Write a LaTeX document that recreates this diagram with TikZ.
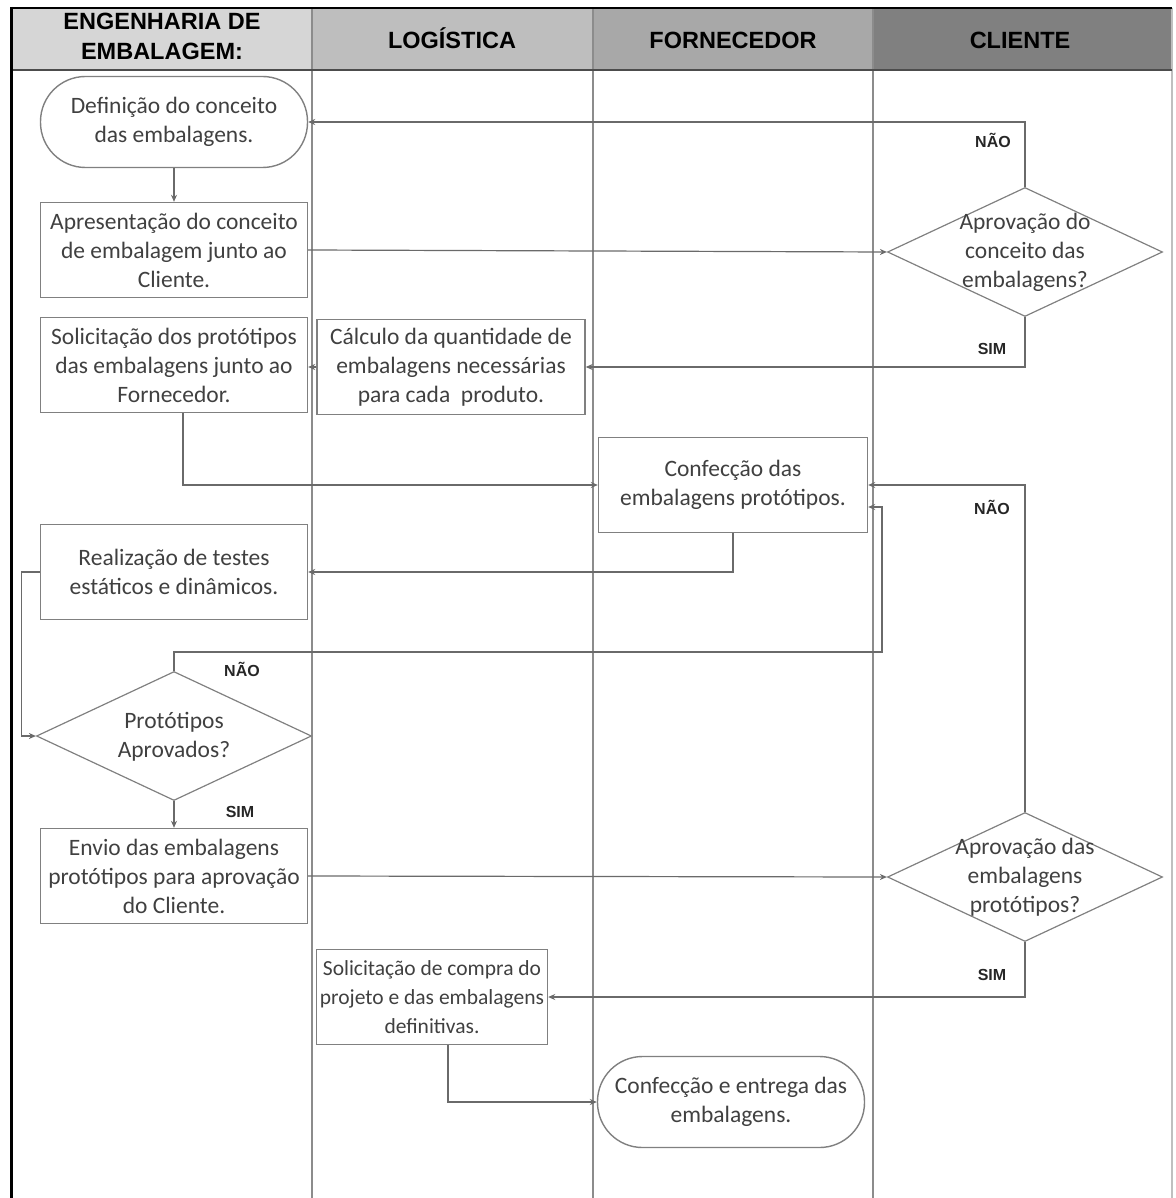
\documentclass[tikz,border=0pt]{standalone}
\usepackage{fontspec}
\setmainfont{Carlito}
\newfontfamily\headfont[BoldFont={Liberation Sans Bold}]{Liberation Sans}
\usepackage{xcolor}
\usepackage{tikz}
\usetikzlibrary{shapes.geometric}
\usetikzlibrary{arrows.meta,positioning,calc}

\definecolor{txtgray}{HTML}{404040}
\definecolor{boxgray}{HTML}{808080}
\definecolor{linegray}{HTML}{6A6A6A}
\definecolor{lanegray}{HTML}{8C8C8C}
\definecolor{hdrA}{HTML}{D6D6D6}
\definecolor{hdrB}{HTML}{BEBEBE}
\definecolor{hdrC}{HTML}{A8A8A8}
\definecolor{hdrD}{HTML}{808080}

% text inside a diamond that does not grow the shape
\newcommand{\dtext}[1]{\smash{\makebox[0pt]{\raisebox{-0.3em}{\begin{tabular}{@{}c@{}}#1\end{tabular}}}}}

\begin{document}
\begin{tikzpicture}[
    x=1pt, y=-1pt,
    >={Stealth[length=7pt,width=6pt]},
    every node/.style={font=\fontsize{23.5}{29}\selectfont, text=txtgray},
    header/.style={
        font=\headfont\bfseries\fontsize{23.5}{30}\selectfont,
        text=black,
        align=center,
        anchor=base
    },
    process/.style={
        draw=boxgray,
        line width=1.4pt,
        rectangle,
        align=center,
        inner sep=1pt,
        minimum width=267pt,
        minimum height=95pt
    },
    terminal/.style={
        process,
        rounded corners=45pt,
        minimum height=91pt
    },
    decision/.style={
        draw=boxgray,
        line width=1.2pt,
        diamond,
        inner sep=0pt,
        minimum width=275pt,
        minimum height=129pt
    },
    lbl/.style={font=\headfont\bfseries\fontsize{16}{18}\selectfont, text=black!85},
    flow/.style={->, draw=linegray, line width=1.2pt},
    lane/.style={draw=lanegray, line width=1.4pt}
]
\useasboundingbox (0,0) rectangle (1175,1198);

% ==========================================================
% LANES
% ==========================================================
\fill[hdrA] (11,8) rectangle (312,70);
\fill[hdrB] (312,8) rectangle (593,70);
\fill[hdrC] (593,8) rectangle (873,70);
\fill[hdrD] (873,8) rectangle (1172,70);

\draw[lane] (312,8) -- (312,1198);
\draw[lane] (593,8) -- (593,1198);
\draw[lane] (873,8) -- (873,1198);
\draw[draw=black!25, line width=1.4pt] (1172,8) -- (1172,1198);
\draw[draw=black!70, line width=1.6pt] (11,70) -- (1172,70);
\draw[black, line width=2pt] (11,8) -- (1172,8);
\draw[black, line width=3pt] (11,7) -- (11,1198);

\node[header] (hEng) at (162,60) {ENGENHARIA DE\\EMBALAGEM:};
\node[header] (hLog) at (452,49) {LOGÍSTICA};
\node[header] (hForn) at (733,49) {FORNECEDOR};
\node[header] (hCli) at (1020,49) {CLIENTE};

% ==========================================================
% STEPS
% ==========================================================
\node[terminal] (defin) at (174,122) {Definição do conceito\\das embalagens.};
\node[process] (apres) at (174,250) {Apresentação do conceito\\de embalagem junto ao\\Cliente.};
\node[process] (solproto) at (174,365) {Solicitação dos protótipos\\das embalagens junto ao\\Fornecedor.};
\node[process, minimum width=268pt] (calc) at (451,367) {Cálculo da quantidade de\\embalagens necessárias\\para cada \ produto.};
\node[process, minimum width=269pt] (confproto) at (733,485) {Confecção das\\embalagens protótipos.};
\node[process] (testes) at (174,572) {Realização de testes\\estáticos e dinâmicos.};
\node[decision] (protaprov) at (174,736) {\dtext{Protótipos\\Aprovados?}};
\node[process] (envio) at (174,876) {Envio das embalagens\\protótipos para aprovação\\do Cliente.};
\node[process, minimum width=231pt, font=\fontsize{21.5}{29}\selectfont] (compra) at (432,997) {Solicitação de compra do\\projeto e das embalagens\\definitivas.};
\node[terminal] (entrega) at (731,1102) {Confecção e entrega das\\embalagens.};

% ==========================================================
% DECISIONS (CLIENTE)
% ==========================================================
\node[decision] (aprovconc) at (1025,252) {\dtext{Aprovação do\\conceito das\\embalagens?}};
\node[decision] (aprovemb) at (1025,877) {\dtext{Aprovação das\\embalagens\\protótipos?}};

% ==========================================================
% CONNECTIONS
% ==========================================================
\draw[flow] (defin) -- (apres);
\draw[flow] (apres.east) -- (aprovconc.west);

% concept approval
\draw[flow] (aprovconc.north) |- (defin.east);
\draw[flow] (aprovconc.south) |- (calc.east);
\draw[flow] (calc.west) -- (calc.west -| solproto.east);

% prototypes
\draw[flow] ([xshift=9pt]solproto.south) |- (confproto.west);
\draw[flow] (confproto.south) |- (testes.east);
\draw[flow] (testes.west) -- ++(-18,0) |- (protaprov.west);

\coordinate (loopR) at (882,652);
\draw[flow] (protaprov.north) |- (loopR) |- ([yshift=-22pt]confproto.east);
\draw[flow] (protaprov) -- (envio);
\draw[flow] (envio.east) -- (aprovemb.west);

% prototype approval
\draw[flow] (aprovemb.north) |- (confproto.east);
\draw[flow] (aprovemb.south) |- (compra.east);
\draw[flow] ([xshift=16pt]compra.south) |- (entrega.west);

% labels
\node[lbl] (naoA) at (993,140) {NÃO};
\node[lbl] (simA) at (992,349) {SIM};
\node[lbl] (naoB) at (992,507) {NÃO};
\node[lbl] (naoC) at (242,669) {NÃO};
\node[lbl] (simC) at (240,812) {SIM};
\node[lbl] (simB) at (992,975) {SIM};

\end{tikzpicture}
\end{document}
